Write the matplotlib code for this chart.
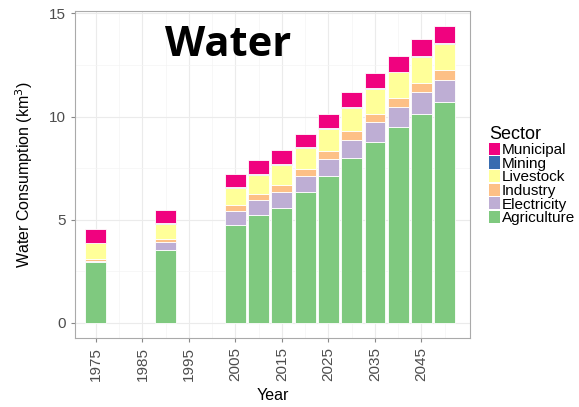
import numpy as np
import matplotlib.pyplot as plt
from matplotlib.patches import Patch

plt.rcParams['font.family'] = ['Liberation Sans', 'DejaVu Sans']

# Data (km^3)
years = [1975, 1990, 2005, 2010, 2015, 2020, 2025, 2030, 2035, 2040, 2045, 2050]
agriculture = [2.97, 3.55, 4.76, 5.22, 5.58, 6.33, 7.12, 7.99, 8.79, 9.50, 10.15, 10.71]
electricity = [0.05, 0.35, 0.68, 0.75, 0.79, 0.79, 0.84, 0.89, 0.93, 0.97, 1.03, 1.07]
industry = [0.10, 0.16, 0.30, 0.27, 0.31, 0.34, 0.37, 0.41, 0.43, 0.45, 0.47, 0.47]
livestock = [0.74, 0.76, 0.81, 0.93, 0.97, 1.00, 1.09, 1.13, 1.18, 1.22, 1.24, 1.29]
mining = [0.02, 0.03, 0.05, 0.04, 0.05, 0.06, 0.05, 0.05, 0.04, 0.04, 0.05, 0.05]
municipal = [0.68, 0.62, 0.63, 0.67, 0.66, 0.65, 0.67, 0.70, 0.73, 0.76, 0.80, 0.81]

sectors = ['Agriculture', 'Electricity', 'Industry', 'Livestock', 'Mining', 'Municipal']
colors = ['#7FC97F', '#BEAED4', '#FDC086', '#FFFF99', '#386CB0', '#F0027F']
series = [agriculture, electricity, industry, livestock, mining, municipal]

fig = plt.figure(figsize=(5.79, 4.07), dpi=100)
ax = fig.add_axes([0.1295, 0.17, 0.682, 0.803])

bottom = np.zeros(len(years))
for name, vals, c in zip(sectors, series, colors):
    ax.bar(years, vals, width=4.5, bottom=bottom, color=c, edgecolor='white',
           linewidth=0.6, zorder=3, label=name)
    bottom += np.array(vals)

ax.set_xlim(1970.5, 2055.4)
ax.set_ylim(-0.72, 15.12)
ax.set_xticks(np.arange(1975, 2050, 10))
ax.set_xticks(np.arange(1980, 2055, 10), minor=True)
ax.set_yticks([0, 5, 10, 15])
ax.set_yticks([2.5, 7.5, 12.5], minor=True)
ax.grid(True, which='major', color='#EBEBEB', linewidth=0.8, zorder=0)
ax.grid(True, which='minor', color='#F4F4F4', linewidth=0.5, zorder=0)
ax.tick_params(axis='x', which='major', labelrotation=90, labelsize=11,
               labelcolor='#4D4D4D', color='#888888', length=3)
ax.tick_params(axis='y', which='major', labelsize=11, labelcolor='#4D4D4D',
               color='#888888', length=3)
ax.tick_params(which='minor', length=0)
for s in ax.spines.values():
    s.set_color('#AAAAAA')
    s.set_linewidth(0.8)

ax.set_xlabel('Year', fontsize=11.5, labelpad=5)
ax.set_ylabel('Water Consumption (km$^3$)', fontsize=11.5, labelpad=10)

ax.text(2003.4, 13.46, 'Water', fontsize=30, fontweight='bold', ha='center',
        va='center', family='Open Sans', zorder=5)

handles = [Patch(facecolor=c, edgecolor='none') for c in colors][::-1]
labels = sectors[::-1]
leg = fig.legend(handles, labels, title='Sector', loc='upper left',
                 bbox_to_anchor=(0.831, 0.708), frameon=False, fontsize=11,
                 title_fontsize=13, handlelength=0.72, handleheight=0.85,
                 handletextpad=0.15, labelspacing=-0.05, borderpad=0)
leg._legend_box.align = 'left'

fig.savefig('out.png', dpi=100)
